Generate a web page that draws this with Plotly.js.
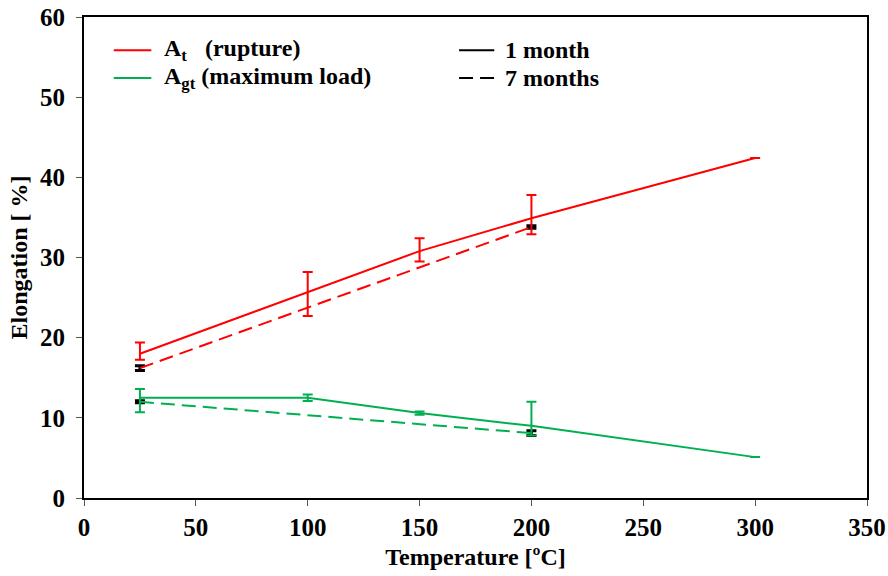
<!DOCTYPE html>
<html><head><meta charset="utf-8">
<script src="https://cdn.plot.ly/plotly-3.0.1.min.js"></script>
<style>body{margin:0;background:#fff}#chart{width:888px;height:576px}</style>
</head><body><div id="chart"></div>
<script>
// Temperatures [ºC]
const temp1 = [25, 100, 150, 200, 300];
const temp7 = [25, 200];
// A_t (rupture), 1 month
const at1 = [18.0, 25.7, 30.8, 34.9, 42.4];
const at1ErrPlus = [1.4, 2.5, 1.6, 2.9, 0];
const at1ErrMinus = [0.75, 3.0, 1.3, 2.0, 0];
// A_t (rupture), 7 months
const at7 = [16.2, 33.8];
const at7Err = [0.3, 0.15];
// A_gt (maximum load), 1 month
const agt1 = [12.5, 12.5, 10.6, 9.0, 5.1];
const agt1ErrPlus = [1.1, 0.4, 0.2, 3.0, 0];
const agt1ErrMinus = [1.8, 0.4, 0.2, 1.2, 0];
// A_gt (maximum load), 7 months
const agt7 = [12.0, 8.1];
const agt7Err = [0.12, 0.3];

const xTicks = [0, 50, 100, 150, 200, 250, 300, 350];
const yTicks = [0, 10, 20, 30, 40, 50, 60];

const RED = '#ff0000', GREEN = '#00b050';
const FONT = '"Liberation Serif", "Times New Roman", serif';

function errBar(plus, minus, color, thick, width) {
  return {type: 'data', symmetric: false, array: plus, arrayminus: minus,
          color: color, thickness: thick, width: width, visible: true};
}

const traces = [
  {x: temp7, y: at7, mode: 'lines', line: {color: RED, width: 2, dash: '14px,7px'},
   error_y: errBar(at7Err, at7Err, '#000', 3, 5), showlegend: false},
  {x: temp7, y: agt7, mode: 'lines', line: {color: GREEN, width: 2, dash: '14px,7px'},
   error_y: errBar(agt7Err, agt7Err, '#000', 3, 5), showlegend: false},
  {x: temp1, y: at1, mode: 'lines', line: {color: RED, width: 2},
   error_y: errBar(at1ErrPlus, at1ErrMinus, RED, 2, 5), showlegend: false},
  {x: temp1, y: agt1, mode: 'lines', line: {color: GREEN, width: 2},
   error_y: errBar(agt1ErrPlus, agt1ErrMinus, GREEN, 2, 5), showlegend: false}
];

const bold = v => '<b>' + v + '</b>';

const axisBase = {showgrid: false, zeroline: false, showline: true, linecolor: '#000', linewidth: 2,
  ticks: 'outside', ticklen: 6, tickwidth: 1, tickcolor: '#555',
  tickfont: {family: FONT, size: 25, color: '#000'}};

const layout = {
  width: 888, height: 576,
  margin: {l: 84, r: 21, t: 17, b: 78},
  paper_bgcolor: '#fff', plot_bgcolor: '#fff',
  font: {family: FONT, color: '#000'},
  xaxis: Object.assign({}, axisBase, {range: [0, 350], tickvals: xTicks, ticktext: xTicks.map(bold), mirror: true,
    title: {text: bold('Temperature [ºC]'), font: {family: FONT, size: 24, color: '#000'}, standoff: 8}}),
  yaxis: Object.assign({}, axisBase, {range: [0, 60], tickvals: yTicks, ticktext: yTicks.map(bold), mirror: true,
    ticklabelstandoff: 6,
    title: {text: bold('Elongation [ %]'), font: {family: FONT, size: 24, color: '#000'}, standoff: 6}}),
  xaxis2: {overlaying: 'x', matches: 'x', range: [0, 350], tickvals: xTicks, ticks: 'inside', ticklen: 6,
    tickcolor: '#555', showticklabels: false, showgrid: false, zeroline: false, showline: false},
  yaxis2: {overlaying: 'y', matches: 'y', range: [0, 60], tickvals: yTicks, ticks: 'inside', ticklen: 6,
    tickcolor: '#555', showticklabels: false, showgrid: false, zeroline: false, showline: false},
  shapes: [
    {type: 'line', xref: 'paper', yref: 'paper', x0: 0.038, x1: 0.086, y0: 0.931, y1: 0.931, line: {color: RED, width: 2}},
    {type: 'line', xref: 'paper', yref: 'paper', x0: 0.038, x1: 0.086, y0: 0.873, y1: 0.873, line: {color: GREEN, width: 2}},
    {type: 'line', xref: 'paper', yref: 'paper', x0: 0.479, x1: 0.524, y0: 0.931, y1: 0.931, line: {color: '#000', width: 2}},
    {type: 'line', xref: 'paper', yref: 'paper', x0: 0.479, x1: 0.524, y0: 0.873, y1: 0.873, line: {color: '#000', width: 2, dash: '14px,7px'}}
  ],
  annotations: [
    {xref: 'paper', yref: 'paper', x: 0.1, y: 0.931, xanchor: 'left', yanchor: 'middle', showarrow: false,
     text: bold('A<sub>t</sub>&nbsp;&nbsp;&nbsp;(rupture)'), font: {family: FONT, size: 24, color: '#000'}},
    {xref: 'paper', yref: 'paper', x: 0.1, y: 0.873, xanchor: 'left', yanchor: 'middle', showarrow: false,
     text: bold('A<sub>gt</sub> (maximum load)'), font: {family: FONT, size: 24, color: '#000'}},
    {xref: 'paper', yref: 'paper', x: 0.535, y: 0.931, xanchor: 'left', yanchor: 'middle', showarrow: false,
     text: bold('1 month'), font: {family: FONT, size: 24, color: '#000'}},
    {xref: 'paper', yref: 'paper', x: 0.535, y: 0.873, xanchor: 'left', yanchor: 'middle', showarrow: false,
     text: bold('7 months'), font: {family: FONT, size: 24, color: '#000'}}
  ],
  showlegend: false
};

Plotly.newPlot('chart', traces, layout, {displayModeBar: false, staticPlot: true});
</script></body></html>
